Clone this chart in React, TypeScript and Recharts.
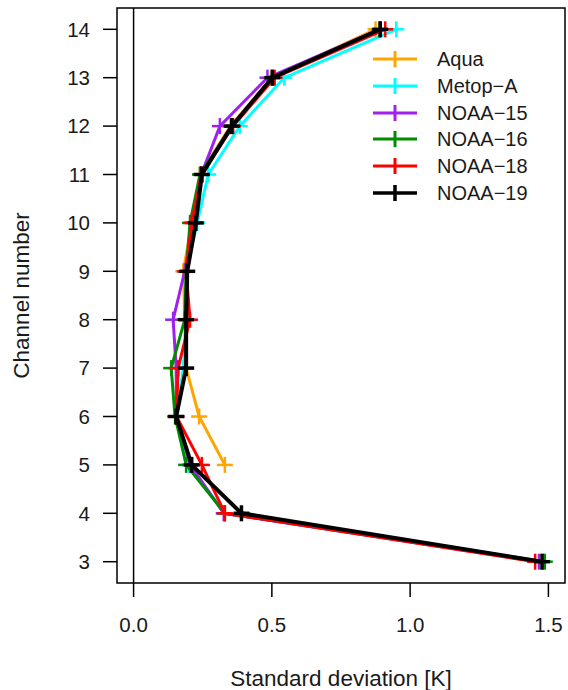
import { ScatterChart, Scatter, XAxis, YAxis, ReferenceLine, ReferenceArea, Legend } from "recharts";

// channel numbers, bottom to top
const channels = [3, 4, 5, 6, 7, 8, 9, 10, 11, 12, 13, 14];

// standard deviation [K] per channel (null = no data)
const aqua = [null, null, 0.33, 0.237, 0.19, 0.185, 0.18, 0.21, 0.24, 0.35, 0.5, 0.875];
const metopA = [1.48, 0.33, 0.2, 0.155, 0.18, 0.19, 0.19, 0.23, 0.27, 0.384, 0.545, 0.95];
const noaa15 = [1.466, 0.326, 0.205, 0.155, 0.154, 0.143, 0.185, 0.215, 0.245, 0.312, 0.484, 0.89];
const noaa16 = [1.487, 0.33, 0.19, 0.15, 0.136, 0.185, 0.19, 0.204, 0.24, 0.355, 0.5, 0.89];
const noaa18 = [1.452, 0.33, 0.247, 0.155, 0.161, 0.204, 0.19, 0.21, 0.245, 0.36, 0.51, 0.91];
const noaa19 = [1.477, 0.39, 0.21, 0.154, 0.19, 0.19, 0.194, 0.225, 0.247, 0.355, 0.502, 0.892];

const seriesNames = ["Aqua", "Metop\u2212A", "NOAA\u221215", "NOAA\u221216", "NOAA\u221218", "NOAA\u221219"];
const seriesColors = ["#FFA500", "#00FFFF", "#A020F0", "#008B00", "#FF0000", "#000000"];
const seriesValues = [aqua, metopA, noaa15, noaa16, noaa18, noaa19];

const xTicks = [0, 0.5, 1.0, 1.5];
// R-style 4% padding around the data range
const xDomain = [-0.06, 1.56];
const yDomain = [2.56, 14.44];

const FONT = "'Liberation Sans', Arial, Helvetica, sans-serif";

const toPoints = (vals: (number | null)[]) =>
  channels
    .map((ch, i) => ({ ch, sd: vals[i] }))
    .filter((p) => p.sd !== null);

function Cross(props: any) {
  const { cx, cy, color, w } = props;
  if (cx == null || cy == null) return null;
  const s = 8;
  return (
    <g>
      <line x1={cx - s} x2={cx + s} y1={cy} y2={cy} stroke={color} strokeWidth={w} />
      <line x1={cx} x2={cx} y1={cy - s} y2={cy + s} stroke={color} strokeWidth={w} />
    </g>
  );
}

function LegendBox() {
  return (
    <div style={{ fontFamily: FONT, fontSize: 20, color: "#1a1a1a" }}>
      {seriesNames.map((name, i) => (
        <div key={name} style={{ display: "flex", alignItems: "center", height: 26.8 }}>
          <svg width={44} height={18} style={{ display: "block" }}>
            <line x1={0} x2={44} y1={9} y2={9} stroke={seriesColors[i]} strokeWidth={i === 5 ? 3.5 : 3} />
            <line x1={22} x2={22} y1={1} y2={17} stroke={seriesColors[i]} strokeWidth={i === 5 ? 3.5 : 3} />
          </svg>
          <span style={{ marginLeft: 20, lineHeight: "20px" }}>{name}</span>
        </div>
      ))}
    </div>
  );
}

export default function App() {
  const tickStyle = { fontFamily: FONT, fontSize: 20.5, fill: "#1a1a1a" };
  const titleStyle = { fontFamily: FONT, fontSize: 22.5, fill: "#1a1a1a" };
  return (
    <div style={{ position: "absolute", left: 0, top: 0, background: "#fff" }}>
      <ScatterChart width={568} height={690} margin={{ top: 8, right: 3, bottom: 0, left: 0 }}>
        <XAxis
          type="number"
          dataKey="sd"
          domain={xDomain}
          ticks={xTicks}
          allowDataOverflow
          axisLine={false}
          tickSize={14}
          tickMargin={20}
          tickLine={{ stroke: "#000", strokeWidth: 1.5 }}
          tick={tickStyle}
          tickFormatter={(v: number) => v.toFixed(1)}
          height={107}
          label={{ value: "Standard deviation [K]", position: "insideBottom", offset: 4, style: titleStyle }}
        />
        <YAxis
          type="number"
          dataKey="ch"
          domain={yDomain}
          ticks={channels}
          allowDataOverflow
          axisLine={false}
          tickSize={14}
          tickMargin={13}
          tickLine={{ stroke: "#000", strokeWidth: 1.5 }}
          tick={tickStyle}
          width={117}
          label={{
            value: "Channel number",
            angle: -90,
            position: "insideLeft",
            offset: 21,
            textAnchor: "middle",
            style: titleStyle,
          }}
        />
        <ReferenceArea
          x1={xDomain[0]}
          x2={xDomain[1]}
          y1={yDomain[0]}
          y2={yDomain[1]}
          fill="none"
          fillOpacity={0}
          stroke="#000"
          strokeWidth={1.5}
          ifOverflow="visible"
        />
        <ReferenceLine x={0} stroke="#000" strokeWidth={1.5} />
        {seriesNames.map((name, i) => {
          const w = i === 5 ? 4 : 3;
          return (
            <Scatter
              key={name}
              name={name}
              data={toPoints(seriesValues[i])}
              fill={seriesColors[i]}
              line={{ stroke: seriesColors[i], strokeWidth: w }}
              lineJointType="linear"
              shape={(p: any) => <Cross cx={p.cx} cy={p.cy} color={seriesColors[i]} w={w - 0.5} />}
              isAnimationActive={false}
            />
          );
        })}
        <Legend
          layout="vertical"
          align="center"
          verticalAlign="middle"
          wrapperStyle={{ top: 45.6, left: 373, width: 190 }}
          content={() => <LegendBox />}
        />
      </ScatterChart>
    </div>
  );
}
